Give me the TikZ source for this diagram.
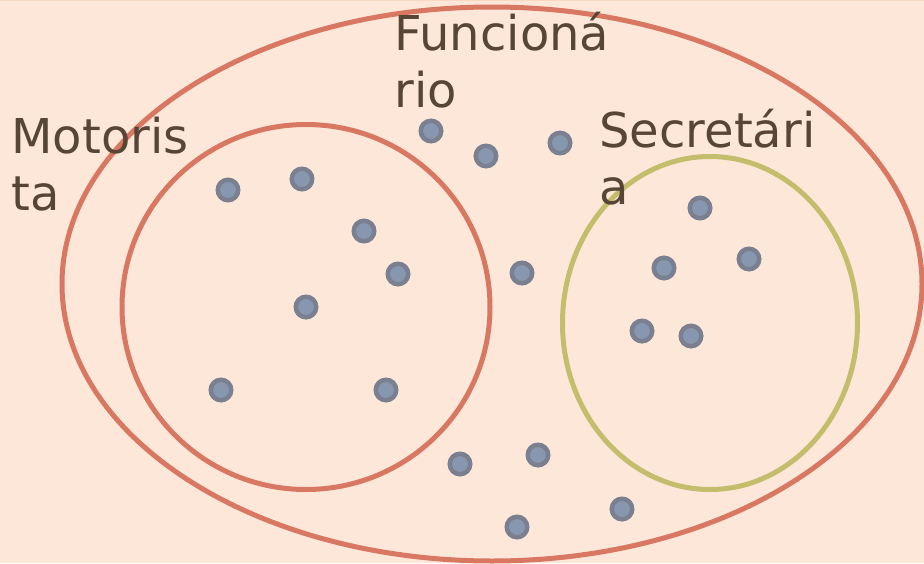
\documentclass[tikz,border=0pt]{standalone}
\usepackage{fontspec}
\setmainfont{DejaVu Sans}
\usetikzlibrary{shapes.geometric}
\definecolor{fundo}{HTML}{FDE7D9}
\definecolor{borda}{HTML}{FCD8C2}
\definecolor{tijolo}{HTML}{D97862}
\definecolor{oliva}{HTML}{C4BD6B}
\definecolor{texto}{HTML}{574636}
\definecolor{anel}{HTML}{7B8090}
\definecolor{miolo}{HTML}{8797B0}
\tikzset{
every picture/.style={
line width=1pt
}}

\begin{document}
\begin{tikzpicture}[x=1pt, y=-1pt,
grupo/.style = {ellipse, line width=5pt, inner sep=0pt},
rotulo/.style = {anchor=base west, align=left, inner sep=0pt, text=texto,
  font=\fontsize{48}{57}\selectfont},
pessoa/.style = {circle, draw=anel, line width=4.5pt, fill=miolo,
  minimum size=20.5pt, inner sep=0pt}]
\useasboundingbox (0,0) rectangle (924,563);
\fill[fundo] (0,0) rectangle (924,563);
\draw[borda, line width=1.5pt] (0,0.5) -- (924,0.5);

% conjuntos
\node[grupo, draw=tijolo, minimum width=860pt, minimum height=554pt] (funcionario) at (492,284) {};
\node[grupo, draw=tijolo, minimum width=368pt, minimum height=365pt] (motorista) at (306,307) {};
\node[grupo, draw=oliva, minimum width=295pt, minimum height=333pt] (secretaria) at (710,323) {};

% rotulos
\node[rotulo] (lmotorista) at (11,210) {Motoris\\ta};
\node[rotulo] (lfuncionario) at (394,107) {Funcioná\\rio};
\node[rotulo] (lsecretaria) at (599,204) {Secretári\\a};

% motoristas
\node[pessoa] (m1) at (228,190) {};
\node[pessoa] (m2) at (302,179) {};
\node[pessoa] (m3) at (364,231) {};
\node[pessoa] (m4) at (398,274) {};
\node[pessoa] (m5) at (306,307) {};
\node[pessoa] (m6) at (221,390) {};
\node[pessoa] (m7) at (386,390) {};

% funcionarios
\node[pessoa] (f1) at (431,131) {};
\node[pessoa] (f2) at (486,156) {};
\node[pessoa] (f3) at (560,143) {};
\node[pessoa] (f4) at (522,273) {};
\node[pessoa] (f5) at (460,464) {};
\node[pessoa] (f6) at (538,455) {};
\node[pessoa] (f7) at (517,527) {};
\node[pessoa] (f8) at (622,509) {};

% secretarias
\node[pessoa] (s1) at (700,208) {};
\node[pessoa] (s2) at (664,268) {};
\node[pessoa] (s3) at (749,259) {};
\node[pessoa] (s4) at (642,331) {};
\node[pessoa] (s5) at (691,336) {};
\end{tikzpicture}
\end{document}
